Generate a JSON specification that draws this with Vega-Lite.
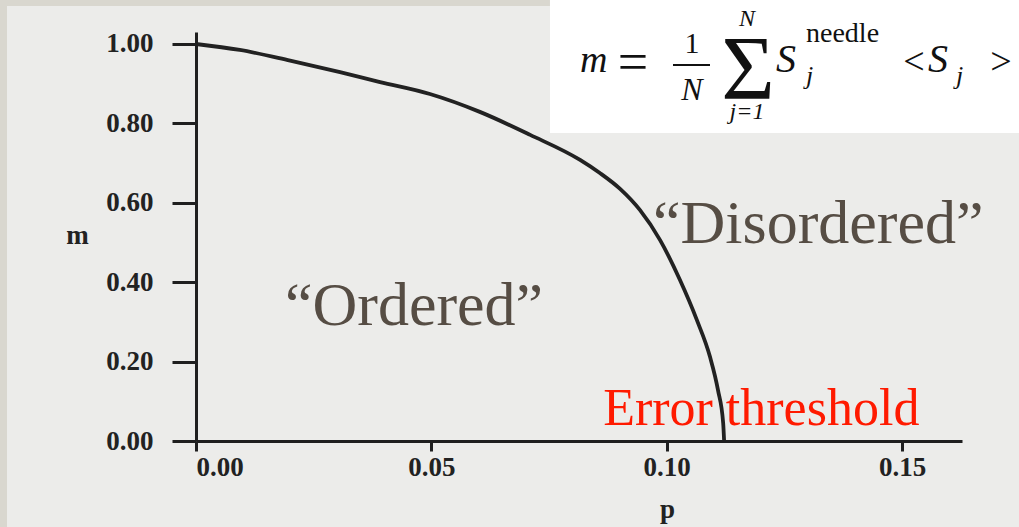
{
  "$schema": "https://vega.github.io/schema/vega-lite/v6.json",
  "autosize": {"type": "none"},
  "padding": {"left": 196, "top": 32, "right": 57, "bottom": 86},
  "width": 766,
  "height": 409,
  "background": "#d9d7cf",
  "config": {
    "view": {"stroke": null},
    "axis": {
      "grid": false,
      "domainColor": "#1f1f1f",
      "domainWidth": 3,
      "tickColor": "#1f1f1f",
      "tickWidth": 3,
      "labelFont": "Liberation Serif",
      "labelFontWeight": "bold",
      "labelFontSize": 27,
      "labelColor": "#222222",
      "titleFont": "Liberation Serif",
      "titleFontWeight": "bold",
      "titleFontSize": 27,
      "titleColor": "#222222"
    }
  },
  "datasets": {
    "curve": [
      {"p": 0.0, "m": 1.0},
      {"p": 0.0093, "m": 0.985},
      {"p": 0.02, "m": 0.958},
      {"p": 0.0306, "m": 0.929},
      {"p": 0.0391, "m": 0.904},
      {"p": 0.0497, "m": 0.874},
      {"p": 0.0603, "m": 0.829},
      {"p": 0.071, "m": 0.771},
      {"p": 0.0816, "m": 0.708},
      {"p": 0.0858, "m": 0.675},
      {"p": 0.0901, "m": 0.635},
      {"p": 0.0943, "m": 0.582},
      {"p": 0.0986, "m": 0.506},
      {"p": 0.1028, "m": 0.406},
      {"p": 0.1064, "m": 0.305},
      {"p": 0.1092, "m": 0.212},
      {"p": 0.1109, "m": 0.128},
      {"p": 0.112, "m": 0.045},
      {"p": 0.1122, "m": 0.0}
    ],
    "one": [{}]
  },
  "data": {"name": "one"},
  "layer": [
    {
      "mark": {"type": "rect", "color": "#ececea"},
      "encoding": {
        "x": {"datum": -0.04015, "type": "quantitative", "scale": {"domain": [0, 0.16274], "nice": false, "zero": false},
          "axis": {"zindex": 1, "values": [0, 0.05, 0.1, 0.15], "format": ".2f", "tickSize": 10, "labelPadding": 3, "title": "p", "titleX": 471, "titleY": 76, "titleBaseline": "alphabetic", "titleAlign": "center"}},
        "x2": {"datum": 0.1751},
        "y": {"datum": 1.0957, "type": "quantitative", "scale": {"domain": [0, 1.0302], "nice": false, "zero": false},
          "axis": {"zindex": 1, "values": [0, 0.2, 0.4, 0.6, 0.8, 1.0], "format": ".2f", "tickSize": 24, "labelPadding": 19, "title": "m", "titleAngle": 0, "titleX": -119, "titleY": 203, "titleBaseline": "middle", "titleAlign": "center"}},
        "y2": {"datum": -0.2166}
      }
    },
    {
      "mark": {"type": "rect", "color": "#ffffff"},
      "encoding": {
        "x": {"datum": 0.0752, "type": "quantitative"},
        "x2": {"datum": 0.1751},
        "y": {"datum": 1.111, "type": "quantitative"},
        "y2": {"datum": 0.7758}
      }
    },
    {
      "data": {"name": "curve"},
      "mark": {"type": "line", "color": "#222222", "strokeWidth": 3.8, "interpolate": "monotone"},
      "encoding": {
        "x": {"field": "p", "type": "quantitative"},
        "y": {"field": "m", "type": "quantitative"}
      }
    },
    {
      "mark": {"type": "text", "text": "“Ordered”", "font": "Liberation Serif", "fontSize": 62, "color": "#564d44", "align": "left", "baseline": "alphabetic"},
      "encoding": {"x": {"datum": 0.0189, "type": "quantitative"}, "y": {"datum": 0.292, "type": "quantitative"}}
    },
    {
      "mark": {"type": "text", "text": "“Disordered”", "font": "Liberation Serif", "fontSize": 62, "color": "#564d44", "align": "left", "baseline": "alphabetic"},
      "encoding": {"x": {"datum": 0.0971, "type": "quantitative"}, "y": {"datum": 0.499, "type": "quantitative"}}
    },
    {
      "mark": {"type": "text", "text": "Error threshold", "font": "Liberation Serif", "fontSize": 52, "color": "#ff1a00", "align": "left", "baseline": "alphabetic"},
      "encoding": {"x": {"datum": 0.0865, "type": "quantitative"}, "y": {"datum": 0.04, "type": "quantitative"}}
    },
    {
      "mark": {"type": "text", "text": "m", "font": "Liberation Serif", "fontStyle": "italic", "fontSize": 38, "color": "#111111", "align": "left", "baseline": "alphabetic"},
      "encoding": {"x": {"datum": 0.08158, "type": "quantitative"}, "y": {"datum": 0.9295, "type": "quantitative"}}
    },
    {
      "mark": {"type": "text", "text": "=", "font": "Liberation Serif", "fontSize": 54, "color": "#111111", "align": "center", "baseline": "alphabetic"},
      "encoding": {"x": {"datum": 0.09284, "type": "quantitative"}, "y": {"datum": 0.9093, "type": "quantitative"}}
    },
    {
      "mark": {"type": "text", "text": "1", "font": "Liberation Serif", "fontSize": 30, "color": "#111111", "align": "center", "baseline": "alphabetic"},
      "encoding": {"x": {"datum": 0.10538, "type": "quantitative"}, "y": {"datum": 0.9773, "type": "quantitative"}}
    },
    {
      "mark": {"type": "rule", "color": "#111111", "strokeWidth": 2},
      "encoding": {"x": {"datum": 0.10134, "type": "quantitative"}, "x2": {"datum": 0.1092}, "y": {"datum": 0.9471, "type": "quantitative"}}
    },
    {
      "mark": {"type": "text", "text": "N", "font": "Liberation Serif", "fontStyle": "italic", "fontSize": 32, "color": "#111111", "align": "center", "baseline": "alphabetic"},
      "encoding": {"x": {"datum": 0.10538, "type": "quantitative"}, "y": {"datum": 0.8589, "type": "quantitative"}}
    },
    {
      "mark": {"type": "text", "text": "Σ", "font": "Liberation Serif", "fontSize": 92, "color": "#111111", "align": "center", "baseline": "alphabetic"},
      "encoding": {"x": {"datum": 0.11727, "type": "quantitative"}, "y": {"datum": 0.8614, "type": "quantitative"}}
    },
    {
      "mark": {"type": "text", "text": "N", "font": "Liberation Serif", "fontStyle": "italic", "fontSize": 24, "color": "#111111", "align": "center", "baseline": "alphabetic"},
      "encoding": {"x": {"datum": 0.11706, "type": "quantitative"}, "y": {"datum": 1.0453, "type": "quantitative"}}
    },
    {
      "mark": {"type": "text", "text": "j=1", "font": "Liberation Serif", "fontStyle": "italic", "fontSize": 24, "color": "#111111", "align": "center", "baseline": "alphabetic"},
      "encoding": {"x": {"datum": 0.11706, "type": "quantitative"}, "y": {"datum": 0.8111, "type": "quantitative"}}
    },
    {
      "mark": {"type": "text", "text": "S", "font": "Liberation Serif", "fontStyle": "italic", "fontSize": 40, "color": "#111111", "align": "left", "baseline": "alphabetic"},
      "encoding": {"x": {"datum": 0.12322, "type": "quantitative"}, "y": {"datum": 0.9295, "type": "quantitative"}}
    },
    {
      "mark": {"type": "text", "text": "needle", "font": "Liberation Serif", "fontSize": 28, "color": "#111111", "align": "left", "baseline": "alphabetic"},
      "encoding": {"x": {"datum": 0.1296, "type": "quantitative"}, "y": {"datum": 1.005, "type": "quantitative"}}
    },
    {
      "mark": {"type": "text", "text": "j", "font": "Liberation Serif", "fontStyle": "italic", "fontSize": 26, "color": "#111111", "align": "left", "baseline": "alphabetic"},
      "encoding": {"x": {"datum": 0.1296, "type": "quantitative"}, "y": {"datum": 0.8992, "type": "quantitative"}}
    },
    {
      "mark": {"type": "text", "text": "<", "font": "Liberation Serif", "fontSize": 38, "color": "#111111", "align": "center", "baseline": "alphabetic"},
      "encoding": {"x": {"datum": 0.15254, "type": "quantitative"}, "y": {"datum": 0.9244, "type": "quantitative"}}
    },
    {
      "mark": {"type": "text", "text": "S", "font": "Liberation Serif", "fontStyle": "italic", "fontSize": 40, "color": "#111111", "align": "left", "baseline": "alphabetic"},
      "encoding": {"x": {"datum": 0.15551, "type": "quantitative"}, "y": {"datum": 0.9295, "type": "quantitative"}}
    },
    {
      "mark": {"type": "text", "text": "j", "font": "Liberation Serif", "fontStyle": "italic", "fontSize": 26, "color": "#111111", "align": "left", "baseline": "alphabetic"},
      "encoding": {"x": {"datum": 0.16146, "type": "quantitative"}, "y": {"datum": 0.8992, "type": "quantitative"}}
    },
    {
      "mark": {"type": "text", "text": ">", "font": "Liberation Serif", "fontSize": 38, "color": "#111111", "align": "center", "baseline": "alphabetic"},
      "encoding": {"x": {"datum": 0.17102, "type": "quantitative"}, "y": {"datum": 0.9244, "type": "quantitative"}}
    }
  ]
}
